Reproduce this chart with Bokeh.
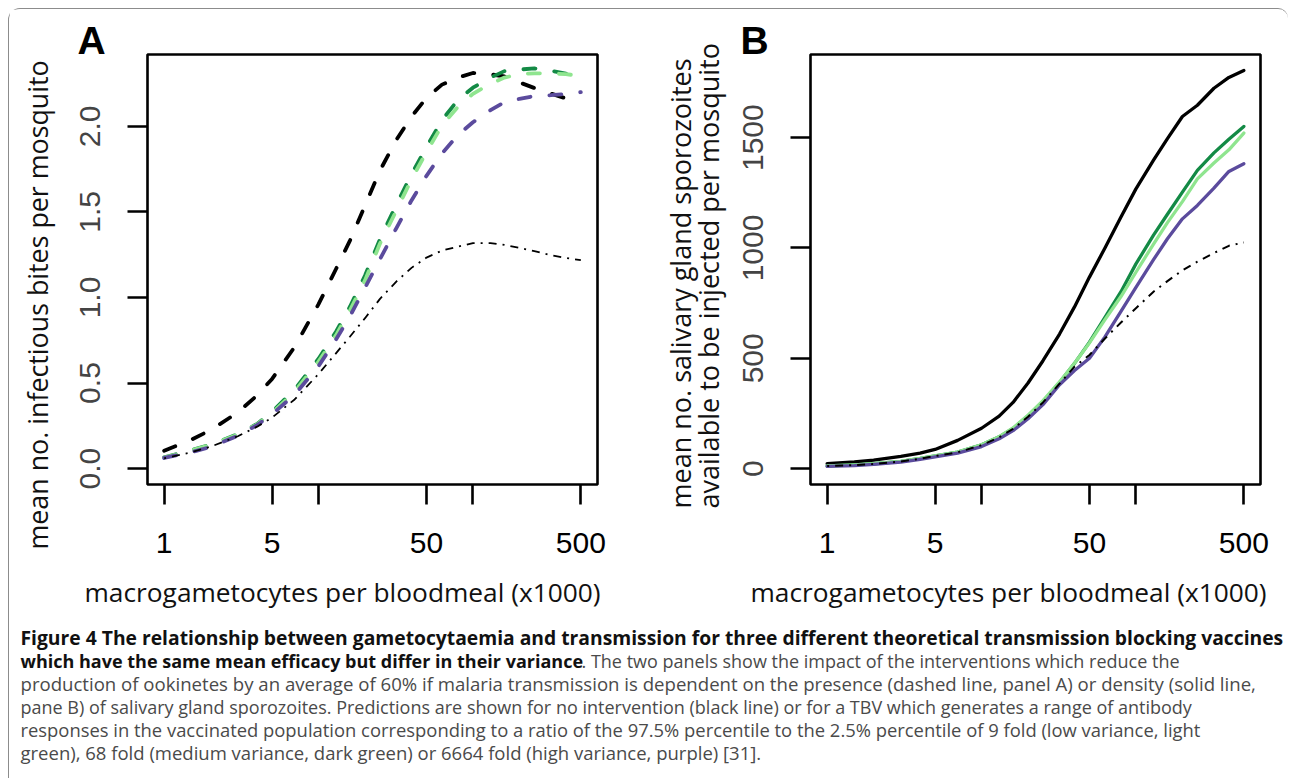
import math
from bokeh.plotting import figure
from bokeh.models import Range1d, FixedTicker, CustomJSTickFormatter, NumeralTickFormatter, Title
from bokeh.layouts import row, column
from bokeh.embed import file_html
from bokeh.resources import INLINE
from bokeh.core.properties import value

# ---------------- data ----------------
x_vals = [1, 1.5, 2, 3, 4, 5, 7, 10, 13, 16, 20, 25, 32, 40, 50, 63, 80, 100,
          130, 160, 200, 250, 320, 400, 500]

# Panel A: mean no. infectious bites per mosquito
A_none = [0.104, 0.169, 0.225, 0.328, 0.428, 0.524, 0.711, 0.961, 1.168, 1.334, 1.537, 1.742, 1.923,
          2.057, 2.166, 2.244, 2.285, 2.312, 2.304, 2.292, 2.257, 2.224, 2.192, 2.163, 2.14]
A_dark = [0.066, 0.108, 0.140, 0.201, 0.261, 0.332, 0.461, 0.642, 0.801, 0.947, 1.128, 1.341, 1.544,
          1.720, 1.879, 2.036, 2.155, 2.226, 2.285, 2.323, 2.332, 2.339, 2.325, 2.308, 2.295]
A_light = [0.064, 0.106, 0.139, 0.198, 0.258, 0.325, 0.450, 0.625, 0.780, 0.925, 1.100, 1.315, 1.510,
           1.690, 1.850, 2.005, 2.115, 2.190, 2.250, 2.285, 2.305, 2.310, 2.310, 2.305, 2.295]
A_purple = [0.062, 0.096, 0.126, 0.192, 0.254, 0.318, 0.431, 0.599, 0.756, 0.892, 1.057, 1.224, 1.407,
            1.567, 1.711, 1.842, 1.949, 2.024, 2.095, 2.141, 2.161, 2.177, 2.182, 2.189, 2.200]
A_dotdash = [0.060, 0.095, 0.128, 0.189, 0.245, 0.298, 0.404, 0.553, 0.675, 0.772, 0.879, 0.992, 1.094,
             1.173, 1.233, 1.274, 1.297, 1.318, 1.318, 1.307, 1.290, 1.271, 1.247, 1.231, 1.218]

# Panel B: mean no. salivary gland sporozoites available to be injected per mosquito
B_none = [23, 30, 38, 55, 70, 87, 128, 183, 238, 300, 388, 489, 610, 733, 868, 1000, 1140, 1268,
          1398, 1496, 1596, 1647, 1724, 1773, 1805]
B_dark = [12, 17, 22, 33, 46, 58, 75, 108, 144, 182, 239, 304, 390, 477, 573, 686, 802, 928,
          1058, 1153, 1253, 1352, 1431, 1493, 1551]
B_light = [12, 17, 22, 33, 46, 58, 75, 108, 145, 184, 242, 308, 393, 478, 570, 675, 780, 890,
           1018, 1115, 1210, 1313, 1385, 1445, 1521]
B_purple = [10, 14, 19, 29, 42, 53, 70, 100, 135, 172, 226, 290, 380, 445, 500, 597, 713, 822,
            947, 1042, 1132, 1193, 1271, 1347, 1382]
B_dotdash = [12, 16, 21, 32, 45, 57, 74, 106, 142, 180, 235, 300, 385, 462, 515, 590, 662, 727,
             802, 850, 899, 938, 977, 1010, 1025]

x_ticks = [1, 5, 10, 50, 100, 500]
x_tick_labels = ["1", "5", "", "50", "", "500"]
A_yticks = [0, 0.5, 1.0, 1.5, 2.0]
B_yticks = [0, 500, 1000, 1500]

x_title = "macrogametocytes per bloodmeal (x1000)"
A_ytitle = "mean no. infectious  bites per mosquito"
B_ytitle = "mean no. salivary gland sporozoites\navailable to be injected per mosquito"

caption_bold1 = ("Figure 4 The relationship between gametocytaemia and transmission for three "
                 "different theoretical transmission blocking vaccines")
caption_bold2 = "which have the same mean efficacy but differ in their variance"
caption_rest2 = ". The two panels show the impact of the interventions which reduce the"
caption_lines = [
    "production of ookinetes by an average of 60% if malaria transmission is dependent on the presence (dashed line, panel A) or density (solid line,",
    "pane B) of salivary gland sporozoites. Predictions are shown for no intervention (black line) or for a TBV which generates a range of antibody",
    "responses in the vaccinated population corresponding to a ratio of the 97.5% percentile to the 2.5% percentile of 9 fold (low variance, light",
    "green), 68 fold (medium variance, dark green) or 6664 fold (high variance, purple) [31].",
]

BLACK = "#000000"
DARK = "#138a45"
LIGHT = "#8fe58f"
PURPLE = "#5b4b9d"

TICK_FONT = "Liberation Sans"
TITLE_FONT = "Open Sans"


def make_panel(letter, letter_offset, yr, yticks, yfmt, left, right, ylab_gap):
    p = figure(x_axis_type="log", x_range=Range1d(0.78, 641.0), y_range=yr,
               frame_width=450, frame_height=430,
               min_border_left=left, min_border_right=right,
               min_border_top=45, min_border_bottom=140,
               output_backend="svg", toolbar_location=None)
    p.grid.visible = False
    p.outline_line_color = "black"
    p.outline_line_width = 2.6
    p.background_fill_color = "white"
    p.border_fill_color = "white"

    p.title.text = letter
    p.title.text_font = TICK_FONT
    p.title.text_font_size = "39px"
    p.title.text_font_style = "bold"
    p.title.text_color = "#000000"
    p.title.align = "left"
    p.title.vertical_align = "bottom"
    p.title.offset = letter_offset
    p.title.standoff = -14

    xa = p.xaxis[0]
    xa.ticker = FixedTicker(ticks=x_ticks)
    xa.formatter = CustomJSTickFormatter(
        args=dict(tick_vals=x_ticks, tick_texts=x_tick_labels),
        code="const i = tick_vals.indexOf(tick); return i >= 0 ? tick_texts[i] : String(tick);")
    ya = p.yaxis[0]
    ya.ticker = FixedTicker(ticks=yticks)
    ya.formatter = NumeralTickFormatter(format=yfmt)
    ya.major_label_orientation = "vertical"
    for ax in (xa, ya):
        ax.axis_line_color = None
        ax.major_tick_out = 20
        ax.major_tick_in = 0
        ax.major_tick_line_width = 2.6
        ax.major_tick_line_color = "black"
        ax.minor_tick_line_color = None
        ax.major_label_text_font = TICK_FONT
        ax.major_label_text_font_size = "30px"
        ax.axis_label = " "          # thin spacer between tick labels and the titles
        ax.axis_label_text_font_size = "1px"
    xa.major_label_text_color = "#000000"
    ya.major_label_text_color = "#444444"
    xa.major_label_standoff = 28
    ya.major_label_standoff = 27
    xa.axis_label_standoff = 14
    ya.axis_label_standoff = ylab_gap
    return p


def add_titles(p, xoff, ytext, ysize, yoff, lh):
    p.add_layout(Title(text=x_title, align="left", vertical_align="top", offset=xoff,
                       standoff=0, text_font=TITLE_FONT, text_font_size="26.3px",
                       text_font_style="normal", text_color="#111111"), "below")
    p.add_layout(Title(text=ytext, align="left", vertical_align="bottom", offset=yoff,
                       standoff=0, text_font=TITLE_FONT, text_font_size=ysize,
                       text_font_style="normal", text_color="#111111",
                       text_line_height=lh), "left")


# ---------------- panel A ----------------
pA = make_panel("A", -70, Range1d(-0.093, 2.42), A_yticks, "0.0", 138, 44, 18)
dash_kw = dict(line_width=3.8, line_dash="12 19", line_cap="round", line_join="round")
pA.line(x_vals, A_none, line_color=BLACK, **dash_kw)
pA.line(x_vals, A_dark, line_color=DARK, **dash_kw)
pA.line(x_vals, A_light, line_color=LIGHT, **dash_kw)
pA.line(x_vals, A_purple, line_color=PURPLE, **dash_kw)
pA.line(x_vals, A_dotdash, line_color=BLACK, line_width=1.8, line_dash="2 6 8 6")
add_titles(pA, -63, A_ytitle, "26.8px", -65, 1.0)

# ---------------- panel B ----------------
pB = make_panel("B", -70, Range1d(-72, 1877), B_yticks, "0", 169, 23, 9)
solid_kw = dict(line_width=3.3, line_cap="round", line_join="round")
pB.line(x_vals, B_none, line_color=BLACK, **solid_kw)
pB.line(x_vals, B_dark, line_color=DARK, **solid_kw)
pB.line(x_vals, B_light, line_color=LIGHT, **solid_kw)
pB.line(x_vals, B_purple, line_color=PURPLE, **solid_kw)
pB.line(x_vals, B_dotdash, line_color=BLACK, line_width=2.0, line_dash="2 6 8 6")
add_titles(pB, -60, B_ytitle, "27px", -24, 0.76)

# ---------------- caption ----------------
CW, CH = 1274, 147
cap = figure(width=CW, height=CH, x_range=Range1d(0, CW), y_range=Range1d(CH, 0),
             x_axis_location=None, y_axis_location=None, min_border=0,
             output_backend="svg", toolbar_location=None)
cap.grid.visible = False
cap.outline_line_color = None


def cap_text(xpos, ypos, txt, size, bold=False):
    cap.text(x=[xpos], y=[ypos], text=[txt], text_font=value(TITLE_FONT), text_font_size=size,
             text_baseline="alphabetic", text_font_style="bold" if bold else "normal",
             text_color="#111111" if bold else "#4a4a4a")


base = [13, 36, 59, 82, 105, 128]
cap_text(11, base[0], caption_bold1, "19.3px", bold=True)
cap_text(11, base[1], caption_bold2, "18px", bold=True)
cap_text(572, base[1], caption_rest2, "18px")
cap_text(11, base[2], caption_lines[0], "18.6px")
cap_text(11, base[3], caption_lines[1], "18px")
cap_text(11, base[4], caption_lines[2], "18.4px")
cap_text(11, base[5], caption_lines[3], "18.5px")

layout = column(row(pA, pB), cap,
                styles={"margin-left": "8px", "margin-top": "8px",
                        "border-top": "1px solid #8c8c8c", "border-left": "1px solid #8c8c8c",
                        "border-top-left-radius": "12px", "border-top-right-radius": "10px",
                        "padding-right": "5px", "padding-bottom": "7px"})

open("out.html", "w").write(file_html(layout, INLINE))
